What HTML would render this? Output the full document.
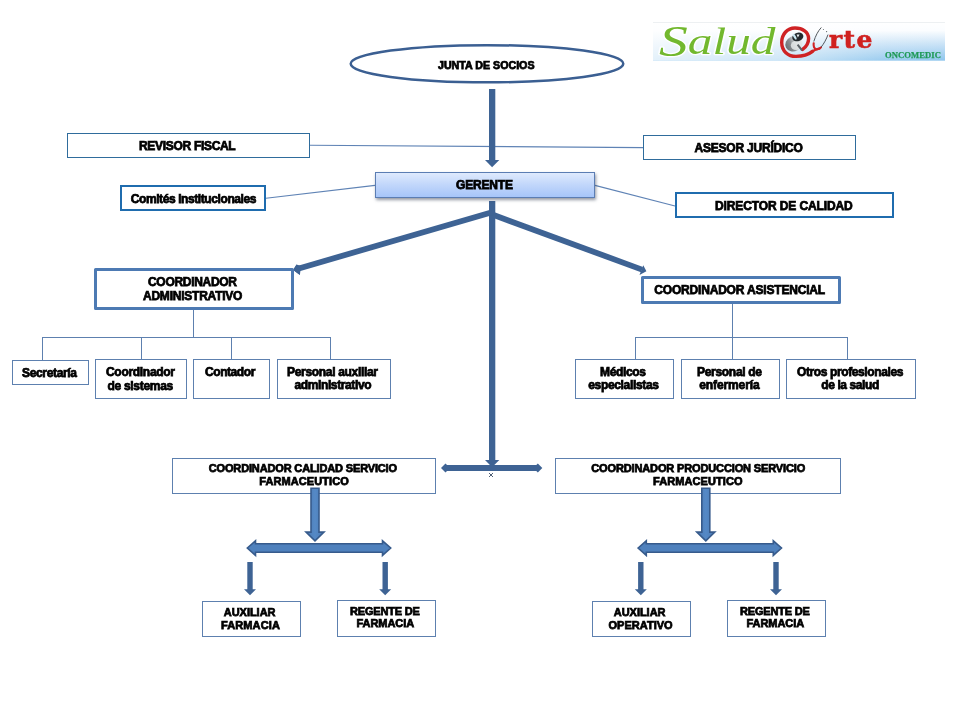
<!DOCTYPE html>
<html lang="es">
<head>
<meta charset="utf-8">
<title>Organigrama SaludArte Oncomedic</title>
<style>
html,body{margin:0;padding:0;background:#fff;}
body{width:960px;height:720px;position:relative;overflow:hidden;font-family:"Liberation Sans", Arial, sans-serif;}
.bx{position:absolute;box-sizing:border-box;background:#fff;border-style:solid;}
.t{position:absolute;white-space:nowrap;font-weight:bold;color:#000;line-height:1;margin:0;padding:0;-webkit-text-stroke:0.75px #000;}
#art{position:absolute;left:0;top:0;will-change:transform;}
#labels{position:absolute;left:0;top:0;width:960px;height:720px;will-change:transform;}
#ger{position:absolute;box-sizing:border-box;left:375px;top:172px;width:220px;height:26px;border:1px solid #5b7db3;
 background:linear-gradient(#dfeafd 0%,#c2d7fb 48%,#a6c5f9 100%);box-shadow:1px 2px 3px rgba(60,70,90,.55);}
</style>
</head>
<body>
<svg id="art" width="960" height="720" viewBox="0 0 960 720">
<defs>
<linearGradient id="ga" x1="0" y1="0" x2="1" y2="0">
<stop offset="0" stop-color="#4a79b3"/><stop offset="0.5" stop-color="#5589c6"/><stop offset="1" stop-color="#4a79b3"/>
</linearGradient>
<linearGradient id="steth" x1="0" y1="0" x2="1" y2="0">
<stop offset="0" stop-color="#6c7175"/><stop offset="0.35" stop-color="#8b9094"/><stop offset="0.7" stop-color="#d9dcde"/><stop offset="1" stop-color="#eceeef"/>
</linearGradient>
<linearGradient id="lgv" x1="0" y1="0" x2="0" y2="1">
<stop offset="0" stop-color="#ffffff"/><stop offset="0.22" stop-color="#fbfdff"/><stop offset="0.6" stop-color="#c6e1f6"/><stop offset="1" stop-color="#8fc6ed"/>
</linearGradient>
<linearGradient id="lgh" x1="0" y1="0" x2="1" y2="0">
<stop offset="0" stop-color="#ffffff" stop-opacity="0.75"/><stop offset="0.45" stop-color="#ffffff" stop-opacity="0.55"/><stop offset="0.8" stop-color="#ffffff" stop-opacity="0.1"/><stop offset="1" stop-color="#ffffff" stop-opacity="0"/>
</linearGradient>
</defs>
<!-- logo -->
<g id="logo">
<rect x="653" y="22" width="292" height="38.7" fill="url(#lgv)"/>
<rect x="653" y="22" width="292" height="38.7" fill="url(#lgh)"/>
<rect x="653" y="22" width="292" height="0.8" fill="#e9edef"/>
<g font-family="'Liberation Serif','DejaVu Serif',serif" font-style="italic">
<text x="659" y="53.8" font-size="38.5" fill="#72b82e" stroke="#ffffff" stroke-width="2.6" stroke-linejoin="round" stroke-opacity="0.9" paint-order="stroke" textLength="116.5" lengthAdjust="spacingAndGlyphs"><tspan font-size="45" dy="2.4">S</tspan><tspan dy="-2.4">alud</tspan></text>
</g>
<!-- red swirl ring with tail -->
<g fill="none" stroke="#cf2224" stroke-linecap="round">
<path d="M802.6 49.4 C 806 47, 808.6 43, 808.6 38.5 C 808.6 32, 802.5 28, 795 28 C 787 28, 781.7 34.5, 781.7 42.5 C 781.7 51, 788 56.4, 796 56.4 C 803 56.4, 808.5 54.6, 812.5 51.4" stroke-width="3.4"/>
<path d="M811.5 52 C 814 50.2, 816.5 49.3, 819.5 48.4" stroke-width="2.4"/>
<path d="M813.7 43.2 C 813.3 46, 814 48.9, 816.5 49.2 C 818.5 49.4, 820 48.5, 821 47.3" stroke-width="2.1"/>
</g>
<!-- stethoscope head -->
<ellipse cx="794" cy="43.6" rx="9" ry="7.6" fill="url(#steth)" transform="rotate(-28 794 43.6)"/>
<ellipse cx="796" cy="45.5" rx="5.2" ry="4.6" fill="#e4e7e9" opacity="0.85"/>
<ellipse cx="797.8" cy="36.9" rx="5.7" ry="4.2" fill="#23292d" transform="rotate(-18 797.8 36.9)"/>
<ellipse cx="794.7" cy="36.7" rx="1.2" ry="3.3" fill="#cdeaf4" transform="rotate(-28 794.7 36.7)"/>
<path d="M796.6 34.6 L799.6 34.4 L797.9 37.6 Z" fill="#eef3f5"/>
<path d="M797.6 44.6 L802 50.4" stroke="#5c6267" stroke-width="2" fill="none"/>
<!-- tubes -->
<path d="M813.8 41.5 C 815.5 36, 818 31, 821.3 27.5" fill="none" stroke="#41464c" stroke-width="0.9"/>
<path d="M821 47.3 C 824 43.5, 826.5 39, 828 34.6" fill="none" stroke="#41464c" stroke-width="0.9"/>
<circle cx="826.6" cy="31.6" r="0.6" fill="#555b60"/><circle cx="823.4" cy="29.4" r="0.5" fill="#555b60"/>
<text x="829" y="47.9" font-family="'DejaVu Serif','Liberation Serif',serif" font-weight="bold" font-size="25" fill="#d0211f" stroke="#d0211f" stroke-width="0.6" textLength="43.5" lengthAdjust="spacing">rte</text>
<text x="885" y="58.4" font-family="'Liberation Serif','DejaVu Serif',serif" font-weight="bold" font-size="8.6" fill="#1f9a57" stroke="#1f9a57" stroke-width="0.25" textLength="56" lengthAdjust="spacing">ONCOMEDIC</text>
</g>
<!-- ellipse -->
<ellipse cx="487" cy="63.75" rx="136.3" ry="18.6" fill="#fff" stroke="#3b5f92" stroke-width="2.5"/>
<!-- thin connector lines -->
<g stroke="#5f83b5" stroke-width="1.15" fill="none">
<line x1="310" y1="145.3" x2="643" y2="147.6"/>
<line x1="266" y1="198.3" x2="375" y2="185.4"/>
<line x1="595" y1="185.4" x2="675" y2="206"/>
</g>
<!-- arrow junta -> gerente -->
<g fill="#3e6394" stroke="none">
<rect x="489" y="89" width="6.3" height="72"/>
<polygon points="485,160 499.3,160 492.1,167.3"/>
<!-- vertical gerente -> bottom -->
<rect x="489" y="201" width="6.3" height="260"/>
<polygon points="485,460 499.3,460 492.1,467.3"/>
</g>
<!-- diagonals -->
<g stroke="#3e6394" stroke-width="5.8" fill="none">
<line x1="492" y1="212.2" x2="298" y2="268.7"/>
<line x1="493" y1="214.8" x2="642" y2="269.6"/>
<line x1="445" y1="468" x2="538.5" y2="468" stroke-width="6"/>
</g>
<g fill="#3e6394">
<polygon points="293.2,270 296.5,264.5 299.9,275"/>
<polygon points="293.2,270 296.5,264.5 301,266 299.9,275"/>
<polygon points="646.4,271.3 643.3,265.2 639.5,275"/>
<polygon points="441,468 445.5,463.6 450,468 445.5,472.4"/>
<polygon points="542.3,468 537.8,463.6 533.3,468 537.8,472.4"/>
</g>
<!-- tree lines -->
<g stroke="#5d80af" stroke-width="1" fill="none" shape-rendering="crispEdges">
<path d="M193.5 309 V337.5 M42.5 360 V337.5 H330.5 V360 M141.5 337.5 V360 M231.5 337.5 V360"/>
<path d="M732.5 303 V337.5 M635.5 360 V337.5 H847.5 V360 M732.5 337.5 V360"/>
</g>
<!-- tiny x mark -->
<g stroke="#46566e" stroke-width="0.95"><line x1="489" y1="473" x2="493" y2="477"/><line x1="493" y1="473" x2="489" y2="477"/></g>
</svg>

<div id="ger"></div>
<div class="bx" style="left:67px;top:133px;width:243px;height:25px;border-width:1px;border-color:#2f6c9c;"></div>
<div class="bx" style="left:120px;top:185px;width:146px;height:26px;border-width:2px;border-color:#1f6cae;"></div>
<div class="bx" style="left:643px;top:135px;width:213px;height:25px;border-width:1px;border-color:#2f6c9c;"></div>
<div class="bx" style="left:675px;top:192px;width:219px;height:26px;border-width:2px;border-color:#1f6cae;"></div>
<div class="bx" style="left:94px;top:268px;width:200px;height:42px;border-width:3px;border-color:#4d7ab3;border-radius:1.5px;"></div>
<div class="bx" style="left:641px;top:276px;width:200px;height:28px;border-width:3px;border-color:#4d7ab3;border-radius:1.5px;"></div>
<div class="bx" style="left:12px;top:360px;width:77px;height:25px;border-width:1px;border-color:#5d80af;"></div>
<div class="bx" style="left:95px;top:359px;width:92px;height:40px;border-width:1px;border-color:#5d80af;"></div>
<div class="bx" style="left:193px;top:359px;width:77px;height:40px;border-width:1px;border-color:#5d80af;"></div>
<div class="bx" style="left:277px;top:359px;width:114px;height:40px;border-width:1px;border-color:#5d80af;"></div>
<div class="bx" style="left:575px;top:359px;width:99px;height:40px;border-width:1px;border-color:#5d80af;"></div>
<div class="bx" style="left:681px;top:359px;width:99px;height:40px;border-width:1px;border-color:#5d80af;"></div>
<div class="bx" style="left:786px;top:359px;width:130px;height:40px;border-width:1px;border-color:#5d80af;"></div>
<div class="bx" style="left:172px;top:458px;width:264px;height:36px;border-width:1px;border-color:#5d80af;"></div>
<div class="bx" style="left:555px;top:458px;width:286px;height:36px;border-width:1px;border-color:#5d80af;"></div>
<div class="bx" style="left:202px;top:601px;width:99px;height:36px;border-width:1px;border-color:#5d80af;"></div>
<div class="bx" style="left:337px;top:600px;width:99px;height:37px;border-width:1px;border-color:#5d80af;"></div>
<div class="bx" style="left:592px;top:601px;width:99px;height:36px;border-width:1px;border-color:#5d80af;"></div>
<div class="bx" style="left:727px;top:600px;width:99px;height:37px;border-width:1px;border-color:#5d80af;"></div>
<svg id="art2" width="960" height="720" viewBox="0 0 960 720" style="position:absolute;left:0;top:0">
<g id="grpL">
<polygon points="311,488.3 319,488.3 319,532.1 324,532.1 315,540.9 306,532.1 311,532.1" fill="url(#ga)" stroke="#375b8c" stroke-width="1.6" stroke-linejoin="miter"/>
<polygon points="247.3,548 255.5,540.8 255.5,543.8 382.5,543.8 382.5,540.8 390.7,548 382.5,555.4 382.5,552.2 255.5,552.2 255.5,555.4" fill="#4f81bd" stroke="#375b8c" stroke-width="1.6" stroke-linejoin="miter"/>
<g fill="#3e6394">
<rect x="247.3" y="562" width="5.4" height="28"/><polygon points="244,589.2 256,589.2 250,595.3"/>
<rect x="382.5" y="562" width="5.4" height="28"/><polygon points="379.2,589.2 391.2,589.2 385.2,595.3"/>
</g>
</g>
<use href="#grpL" x="390.8" y="0"/>
</svg>
<div id="labels">
<span class="t" id="t0" style="left:438.00px;top:60.07px;font-size:10.67px;letter-spacing:-0.000px">JUNTA DE SOCIOS</span>
<span class="t" id="t1" style="left:139.00px;top:139.94px;font-size:12px;letter-spacing:-0.308px">REVISOR FISCAL</span>
<span class="t" id="t2" style="left:130.75px;top:192.94px;font-size:12px;letter-spacing:-0.410px">Comités Institucionales</span>
<span class="t" id="t3" style="left:456.00px;top:178.94px;font-size:12px;letter-spacing:-0.167px">GERENTE</span>
<span class="t" id="t4" style="left:694.50px;top:141.94px;font-size:12px;letter-spacing:-0.214px">ASESOR JURÍDICO</span>
<span class="t" id="t5" style="left:715.00px;top:199.94px;font-size:12px;letter-spacing:-0.111px">DIRECTOR DE CALIDAD</span>
<span class="t" id="t6" style="left:148.00px;top:275.94px;font-size:12px;letter-spacing:-0.300px">COORDINADOR</span>
<span class="t" id="t7" style="left:143.00px;top:289.94px;font-size:12px;letter-spacing:-0.230px">ADMINISTRATIVO</span>
<span class="t" id="t8" style="left:654.25px;top:283.94px;font-size:12px;letter-spacing:-0.181px">COORDINADOR ASISTENCIAL</span>
<span class="t" id="t9" style="left:22.00px;top:366.94px;font-size:12px;letter-spacing:-0.333px">Secretaría</span>
<span class="t" id="t10" style="left:106.00px;top:365.94px;font-size:12px;letter-spacing:-0.300px">Coordinador</span>
<span class="t" id="t11" style="left:107.50px;top:379.94px;font-size:12px;letter-spacing:-0.300px">de sistemas</span>
<span class="t" id="t12" style="left:205.00px;top:365.94px;font-size:12px;letter-spacing:-0.429px">Contador</span>
<span class="t" id="t13" style="left:287.00px;top:365.94px;font-size:12px;letter-spacing:-0.313px">Personal auxiliar</span>
<span class="t" id="t14" style="left:294.50px;top:378.94px;font-size:12px;letter-spacing:-0.384px">administrativo</span>
<span class="t" id="t15" style="left:600.00px;top:365.94px;font-size:12px;letter-spacing:-0.333px">Médicos</span>
<span class="t" id="t16" style="left:588.25px;top:378.94px;font-size:12px;letter-spacing:-0.333px">especialistas</span>
<span class="t" id="t17" style="left:697.00px;top:365.94px;font-size:12px;letter-spacing:-0.300px">Personal de</span>
<span class="t" id="t18" style="left:699.25px;top:378.94px;font-size:12px;letter-spacing:-0.112px">enfermería</span>
<span class="t" id="t19" style="left:797.00px;top:365.94px;font-size:12px;letter-spacing:-0.389px">Otros profesionales</span>
<span class="t" id="t20" style="left:821.25px;top:378.94px;font-size:12px;letter-spacing:-0.400px">de la salud</span>
<span class="t" id="t21" style="left:208.75px;top:462.79px;font-size:11px;letter-spacing:-0.147px">COORDINADOR CALIDAD SERVICIO</span>
<span class="t" id="t22" style="left:259.25px;top:475.79px;font-size:11px;letter-spacing:0.091px">FARMACEUTICO</span>
<span class="t" id="t23" style="left:591.25px;top:462.79px;font-size:11px;letter-spacing:-0.133px">COORDINADOR PRODUCCION SERVICIO</span>
<span class="t" id="t24" style="left:653.00px;top:475.79px;font-size:11px;letter-spacing:0.091px">FARMACEUTICO</span>
<span class="t" id="t25" style="left:223.75px;top:606.79px;font-size:11px;letter-spacing:-0.028px">AUXILIAR</span>
<span class="t" id="t26" style="left:221.00px;top:619.79px;font-size:11px;letter-spacing:0.115px">FARMACIA</span>
<span class="t" id="t27" style="left:350.00px;top:605.79px;font-size:11px;letter-spacing:-0.177px">REGENTE DE</span>
<span class="t" id="t28" style="left:356.50px;top:617.79px;font-size:11px;letter-spacing:-0.056px">FARMACIA</span>
<span class="t" id="t29" style="left:613.75px;top:606.79px;font-size:11px;letter-spacing:-0.028px">AUXILIAR</span>
<span class="t" id="t30" style="left:608.50px;top:619.79px;font-size:11px;letter-spacing:0.025px">OPERATIVO</span>
<span class="t" id="t31" style="left:740.00px;top:605.79px;font-size:11px;letter-spacing:-0.177px">REGENTE DE</span>
<span class="t" id="t32" style="left:746.50px;top:617.79px;font-size:11px;letter-spacing:-0.056px">FARMACIA</span>
</div>
</body>
</html>
